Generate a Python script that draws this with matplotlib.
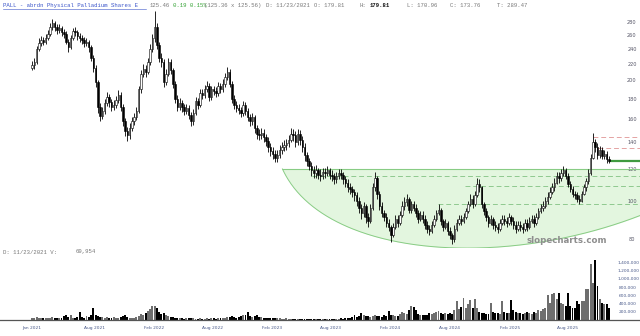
import numpy as np
import pandas as pd
import matplotlib
matplotlib.use("Agg")
import matplotlib.pyplot as plt
import matplotlib.dates as mdates
from matplotlib.ticker import FixedLocator, NullLocator, FixedFormatter
from matplotlib.lines import Line2D

# ---------------- data (weekly bars) ----------------
start_date = "2021-01-22"
n_weeks = 255
first_open = 215

closes = [218,222,240,248,252,250,256,262,272,278,272,268,270,264,262,250,242,256,266,265,
          258,255,252,248,250,242,228,215,198,172,163,168,176,182,177,172,174,179,184,172,
          158,149,146,152,158,162,168,190,208,214,210,222,240,255,272,245,228,222,198,208,
          222,212,196,180,172,176,172,168,171,164,158,166,178,174,186,184,190,194,182,190,
          188,186,194,190,196,204,210,196,180,174,171,169,166,174,168,162,158,162,152,147,
          146,148,144,141,136,133,131,128,130,134,136,138,139,142,147,146,140,147,142,136,
          130,126,122,119,117,119,116,115,118,117,119,116,115,113,115,117,116,113,111,108,
          107,105,103,100,96,93,97,91,89,96,108,114,104,97,93,91,88,86,82,86,
          90,88,92,97,99,101,95,98,96,93,90,92,90,87,85,84,87,90,93,95,
          89,86,88,84,82,80,85,88,90,89,91,94,98,101,98,103,110,108,98,94,
          91,88,90,87,86,85,88,90,89,88,91,89,87,85,87,86,85,88,86,89,
          90,88,91,94,96,97,100,102,105,108,111,115,114,117,119,115,110,107,104,103,
          101,100,104,108,112,117,128,140,136,130,134,129,131,127,125.5]

highs = [224,228,244,255,258,257,262,268,278,285,282,276,277,274,269,266,254,260,271,272,
         268,263,260,257,256,253,245,232,218,200,176,172,180,187,185,180,179,183,189,187,
         175,161,153,156,162,166,172,194,212,220,218,228,246,262,298,278,250,234,226,213,
         228,226,215,199,184,181,179,175,175,174,167,170,182,181,190,190,195,199,197,194,
         194,192,198,197,201,209,216,213,199,184,178,175,172,178,177,171,165,166,164,155,
         151,152,151,147,144,139,136,134,134,138,140,142,143,146,152,151,149,151,150,145,
         139,132,128,125,122,123,121,120,121,121,122,121,119,117,118,120,120,118,115,113,
         111,109,107,105,102,98,99,98,93,98,111,118,115,106,99,95,93,90,87,88,
         92,92,94,100,102,104,102,100,100,98,95,94,94,92,89,87,89,92,95,98,
         96,90,90,89,86,83,87,90,92,92,93,96,100,104,103,106,114,113,109,99,
         96,92,92,91,89,88,90,92,92,91,93,92,91,89,89,89,88,90,90,91,
         92,92,93,96,98,100,102,105,108,111,114,118,118,120,122,121,117,112,109,106,
         105,103,106,110,114,120,131,148,143,139,137,136,134,133,129]

lows = [212,214,220,237,244,245,247,252,259,268,266,262,263,259,256,246,236,240,252,259,
        253,250,247,243,244,236,223,210,192,166,158,160,165,173,172,168,169,171,176,168,
        154,145,141,143,149,155,159,166,186,204,204,207,219,236,250,240,222,216,193,195,
        205,207,191,176,168,169,167,164,165,160,154,155,164,170,172,180,181,187,178,179,
        184,182,183,186,187,193,200,192,176,170,167,165,162,163,164,158,154,155,148,143,
        142,143,140,137,132,129,127,125,125,128,131,133,134,136,140,141,136,138,138,132,
        126,122,119,115,114,114,113,112,113,114,115,113,112,110,111,113,113,110,108,105,
        104,102,100,97,93,90,91,88,86,88,95,106,101,95,91,89,86,84,79,81,
        85,86,87,91,95,97,93,93,94,91,88,89,88,85,83,82,83,86,89,92,
        87,84,85,82,80,78,79,84,87,87,88,90,93,97,96,97,102,105,96,92,
        89,86,87,85,84,83,84,87,87,86,87,87,85,83,84,84,83,84,84,85,
        88,86,87,90,93,94,96,98,101,104,106,110,111,112,115,113,108,105,102,101,
        99,98,99,103,106,110,116,127,132,127,128,127,127,124,124]

volumes_k = [60,45,80,50,40,55,45,60,50,70,55,45,60,50,90,120,70,110,60,50,
             80,190,70,60,90,80,120,300,110,90,80,70,60,75,60,55,70,50,60,80,
             90,110,70,60,50,60,70,90,140,120,160,220,260,350,340,280,200,150,170,120,
             90,80,70,60,50,40,45,35,40,50,45,40,35,30,40,35,30,40,35,45,
             40,35,45,40,50,60,70,80,90,70,60,80,90,110,120,190,100,80,90,110,
             80,70,60,50,60,50,40,45,40,50,35,30,40,35,30,25,30,25,30,35,
             30,25,30,25,20,25,20,25,30,20,25,30,25,30,35,30,40,35,45,60,
             50,70,130,80,90,180,110,90,100,80,90,120,100,90,80,110,100,230,120,110,
             90,100,150,190,170,140,250,330,310,250,150,130,120,110,130,160,150,180,200,230,
             180,150,170,140,160,140,250,450,260,320,530,300,380,480,300,500,280,200,180,160,
             140,150,420,200,160,180,140,450,200,180,160,480,250,200,180,160,150,170,200,160,
             150,200,180,250,220,270,300,600,420,620,650,500,650,420,380,350,650,330,300,280,
             450,400,450,450,750,750,1350,900,1450,820,500,420,380,400,300]

price_ticks = [80, 100, 120, 140, 160, 180, 200, 220, 240, 260, 280]
volume_ticks = [200000, 400000, 600000, 800000, 1000000, 1200000, 1400000]
x_tick_dates = ["2021-01-22", "2021-08-02", "2022-02-01", "2022-08-01", "2023-02-01",
                "2023-08-01", "2024-02-01", "2024-08-01", "2025-02-03", "2025-08-01"]
x_tick_labels = ["Jan 2021", "Aug 2021", "Feb 2022", "Aug 2022", "Feb 2023",
                 "Aug 2023", "Feb 2024", "Aug 2024", "Feb 2025", "Aug 2025"]

# annotation levels
box_top = 120
green_levels = [(115.5, "2023-06-04"), (108.6, "2024-09-18"), (97.8, "2024-06-27")]
red_levels = [(144.6, "2025-10-17"), (135.4, "2025-11-02")]
last_level = (125.5, "2025-12-05")
arc_ctrl_dates = ["2023-03-05", "2023-07-14", "2025-03-06", "2026-05-27"]
arc_ctrl_prices = [120, 70.2, 66.4, 97.5]

# ---------------- figure ----------------
W, H = 640, 336
fig = plt.figure(figsize=(W / 100, H / 100), dpi=100)
fig.patch.set_facecolor("white")

def fy(px):
    return 1 - px / H

ax = fig.add_axes([0, fy(248), 1, (248 - 8) / H])
axv = fig.add_axes([0, fy(320), 1, (320 - 248) / H], sharex=ax)

dates = pd.date_range(start_date, periods=n_weeks, freq="7D")
xd = mdates.date2num(dates)
closes = np.array(closes, dtype=float)
highs = np.array(highs, dtype=float)
lows = np.array(lows, dtype=float)
opens = np.concatenate([[first_open], closes[:-1]])

x0 = mdates.date2num(pd.Timestamp(start_date) - pd.Timedelta(days=98.6))
x1 = mdates.date2num(pd.Timestamp(start_date) + pd.Timedelta(days=1874))

ax.set_yscale("log")
ax.set_ylim(76.1, 303.5)
ax.set_xlim(x0, x1)

# green rounded-bottom zone
t = np.linspace(0, 1, 300)
cx = mdates.date2num(pd.to_datetime(arc_ctrl_dates))
cy = np.log(np.array(arc_ctrl_prices, dtype=float))
bx = ((1 - t) ** 3) * cx[0] + 3 * ((1 - t) ** 2) * t * cx[1] + 3 * (1 - t) * t ** 2 * cx[2] + t ** 3 * cx[3]
by = ((1 - t) ** 3) * cy[0] + 3 * ((1 - t) ** 2) * t * cy[1] + 3 * (1 - t) * t ** 2 * cy[2] + t ** 3 * cy[3]
by = np.exp(by)
ax.fill_between(bx, by, box_top, color="#e3f6df", zorder=1, linewidth=0)
ax.plot(bx, by, color="#88cc84", lw=0.7, zorder=2)
ax.hlines(box_top, cx[0], x1, color="#88cc84", lw=0.8, zorder=2)

for lvl, d in green_levels:
    ax.hlines(lvl, mdates.date2num(pd.Timestamp(d)), x1, color="#8fc98f", lw=0.7,
              linestyles=(0, (5, 3)), zorder=3)
for lvl, d in red_levels:
    ax.hlines(lvl, mdates.date2num(pd.Timestamp(d)), x1, color="#e4a3a3", lw=0.7,
              linestyles=(0, (5, 3)), zorder=3)
ax.hlines(last_level[0], mdates.date2num(pd.Timestamp(last_level[1])), x1,
          color="#3f9a3f", lw=1.6, zorder=3)

# candles
ax.vlines(xd, lows, highs, color="black", lw=0.6, zorder=4)
up = closes >= opens
body_lo = np.minimum(opens, closes)
body_h = np.maximum(np.abs(closes - opens), 0.3)
ax.bar(xd[up], body_h[up], bottom=body_lo[up], width=4.5, color="white",
       edgecolor="black", linewidth=0.4, zorder=5)
ax.bar(xd[~up], body_h[~up], bottom=body_lo[~up], width=4.5, color="black",
       edgecolor="black", linewidth=0.4, zorder=5)

# price axis labels (inside, right)
ax.yaxis.set_major_locator(FixedLocator(price_ticks))
ax.yaxis.set_major_formatter(FixedFormatter([str(v) for v in price_ticks]))
ax.yaxis.set_minor_locator(NullLocator())
ax.yaxis.tick_right()
ax.tick_params(axis="y", length=0, pad=-5.8, labelsize=3.6, labelcolor="#555566")
for lab in ax.get_yticklabels():
    lab.set_horizontalalignment("center")
ax.tick_params(axis="x", which="both", bottom=False, labelbottom=False)
for s in ["top", "left", "right"]:
    ax.spines[s].set_visible(False)
ax.spines["bottom"].set_color("#c8c8c8")
ax.spines["bottom"].set_linewidth(0.7)

fig.text(607 / W, fy(240.7), "slopecharts.com", fontsize=6.2,
         fontweight="bold", color="#8e8e8e", ha="right", va="center", zorder=6)

# volume
vols = np.array(volumes_k, dtype=float) * 1000
axv.bar(xd[~up], vols[~up], width=6, color="black", linewidth=0)
axv.bar(xd[up], vols[up], width=6, color="#6e6e6e", linewidth=0)
axv.set_ylim(0, 1.75e6)
axv.yaxis.set_major_locator(FixedLocator(volume_ticks))
axv.yaxis.set_major_formatter(FixedFormatter([f"{v:,}" for v in volume_ticks]))
axv.yaxis.tick_right()
axv.tick_params(axis="y", length=0, pad=-8.6, labelsize=3.2, labelcolor="#4a5a8a")
for lab in axv.get_yticklabels():
    lab.set_horizontalalignment("center")
axv.set_xticks(mdates.date2num(pd.to_datetime(x_tick_dates)))
axv.set_xticklabels(x_tick_labels)
axv.tick_params(axis="x", length=0, pad=4.5, labelsize=3.2, labelcolor="#4a5a8a")
axv.set_xlim(x0, x1)
for s in ["top", "left", "right"]:
    axv.spines[s].set_visible(False)
axv.spines["bottom"].set_color("#555555")
axv.spines["bottom"].set_linewidth(0.9)

# header texts
mono = "Liberation Mono"
hy = fy(5.5)
FS = 4.1
def htext(px, s, color="#777777", weight="normal"):
    fig.text(px / W, hy, s, fontsize=FS, family=mono, color=color,
             fontweight=weight, va="center", ha="left")

htext(3, "PALL - abrdn Physical Palladium Shares E", color="#3b55c9")
fig.add_artist(Line2D([3 / W, 146 / W], [fy(9), fy(9)], color="#3b55c9", lw=0.4))
htext(150, "125.46")
htext(173, "0.19 0.15%", color="#36a336")
htext(204, "(125.36 x 125.56)")
htext(266, "D: 11/23/2021")
htext(314, "O: 179.81")
htext(360, "H:")
htext(370, "179.81", color="#111111", weight="bold")
htext(407, "L: 170.96")
htext(450, "C: 173.76")
htext(497, "T: 289.47")

fig.text(3 / W, fy(252), "D: 11/23/2021 V:", fontsize=FS, family=mono,
         color="#777777", va="center", ha="left")
fig.text(76 / W, fy(252), "69,954", fontsize=FS, family=mono,
         color="#777777", va="center", ha="left")

fig.savefig("out.png", dpi=100, facecolor="white")
